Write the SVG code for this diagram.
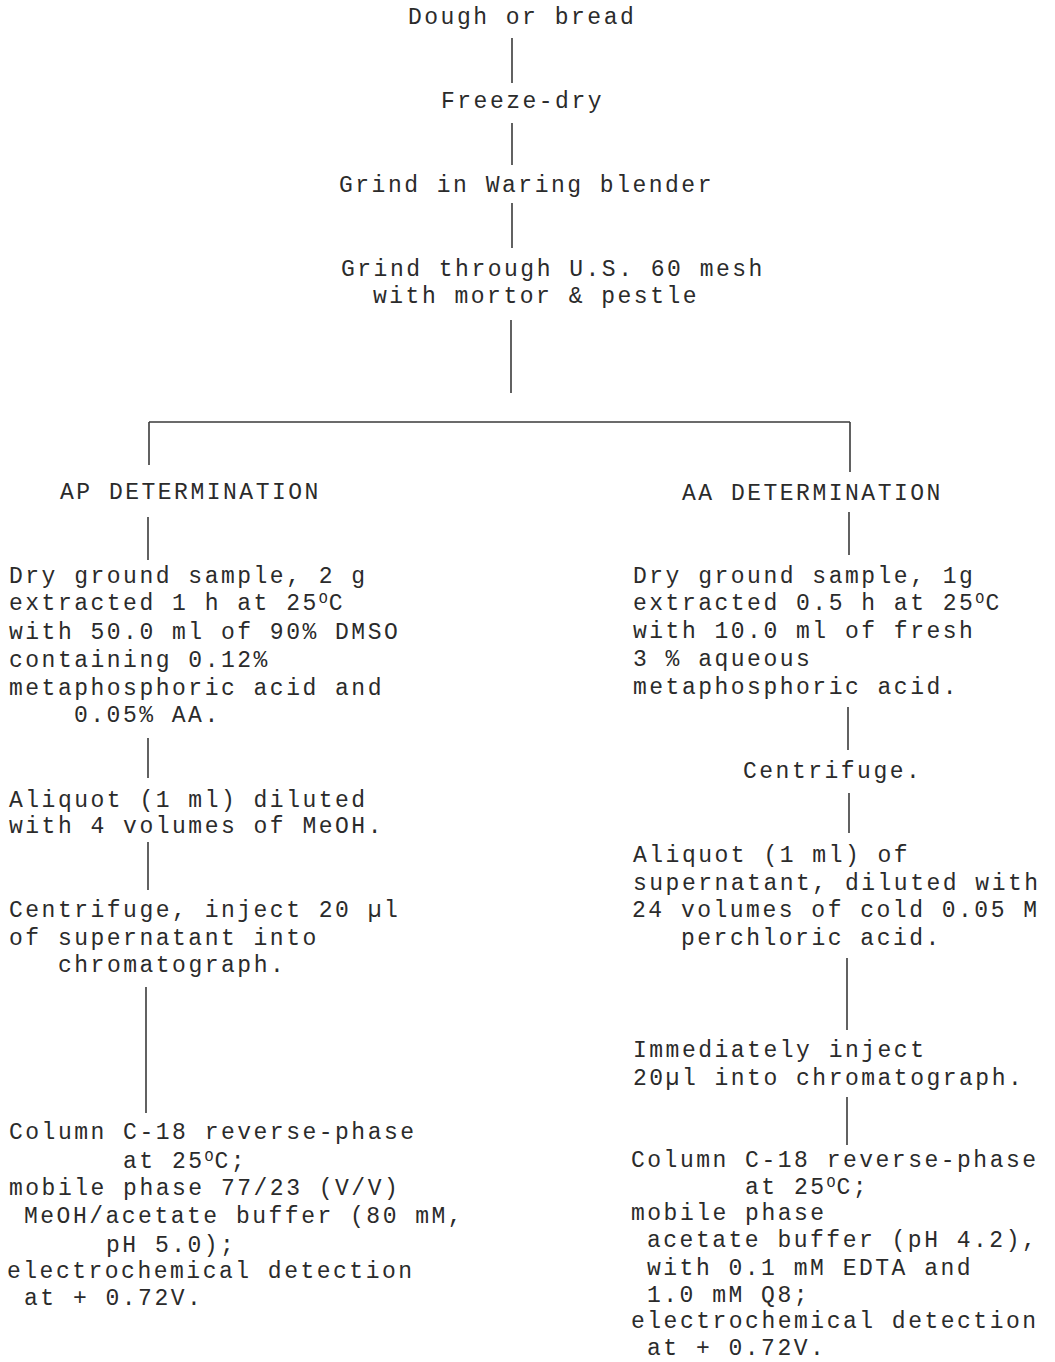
<svg xmlns="http://www.w3.org/2000/svg" width="1055" height="1362" viewBox="0 0 1055 1362">
<style>
text{font-family:"Courier New","Liberation Mono",monospace;font-size:23px;letter-spacing:2.5px;fill:#2b2b2b;}
.sup{font-size:15px;letter-spacing:1px;}
.c line{stroke:#3a3a3a;stroke-width:1.6;}
</style>
<rect width="1055" height="1362" fill="#ffffff"/>
<g class="c" id="connectors">
<line x1="512" y1="38" x2="512" y2="83"/>
<line x1="512" y1="123" x2="512" y2="165"/>
<line x1="512" y1="203" x2="512" y2="248"/>
<line x1="511" y1="320" x2="511" y2="393"/>
<line x1="149" y1="422" x2="850" y2="422"/>
<line x1="149" y1="422" x2="149" y2="465"/>
<line x1="850" y1="422" x2="850" y2="472"/>
<line x1="148" y1="517" x2="148" y2="560"/>
<line x1="148" y1="738" x2="148" y2="778"/>
<line x1="148" y1="842" x2="148" y2="890"/>
<line x1="146" y1="987" x2="146" y2="1113"/>
<line x1="849" y1="512" x2="849" y2="555"/>
<line x1="848" y1="707" x2="848" y2="750"/>
<line x1="849" y1="793" x2="849" y2="833"/>
<line x1="847" y1="958" x2="847" y2="1030"/>
<line x1="847" y1="1097" x2="847" y2="1145"/>
</g>
<g id="n-dough"><text x="408" y="24">Dough or bread</text></g>
<g id="n-freeze"><text x="441" y="108">Freeze-dry</text></g>
<g id="n-grind1"><text x="339" y="192">Grind in Waring blender</text></g>
<g id="n-grind2"><text x="341" y="276">Grind through U.S. 60 mesh</text><text x="373" y="303">with mortor &amp; pestle</text></g>
<g id="n-ap"><text x="60" y="499">AP DETERMINATION</text></g>
<g id="n-aa"><text x="682" y="500">AA DETERMINATION</text></g>
<g id="n-ap1">
<text x="9" y="583">Dry ground sample, 2 g</text>
<text x="9" y="610">extracted 1 h at 25<tspan class="sup" dy="-7">O</tspan><tspan dy="7">C</tspan></text>
<text x="9" y="639">with 50.0 ml of 90% DMSO</text>
<text x="9" y="667">containing 0.12%</text>
<text x="9" y="695">metaphosphoric acid and</text>
<text x="74" y="722">0.05% AA.</text>
</g>
<g id="n-ap2">
<text x="9" y="807">Aliquot (1 ml) diluted</text>
<text x="9" y="833">with 4 volumes of MeOH.</text>
</g>
<g id="n-ap3">
<text x="9" y="917">Centrifuge, inject 20 µl</text>
<text x="9" y="945">of supernatant into</text>
<text x="58" y="972">chromatograph.</text>
</g>
<g id="n-ap4">
<text x="9" y="1139">Column C-18 reverse-phase</text>
<text x="123" y="1168">at 25<tspan class="sup" dy="-7">O</tspan><tspan dy="7">C;</tspan></text>
<text x="9" y="1195">mobile phase 77/23 (V/V)</text>
<text x="24" y="1223">MeOH/acetate buffer (80 mM,</text>
<text x="106" y="1252">pH 5.0);</text>
<text x="7" y="1278">electrochemical detection</text>
<text x="24" y="1305">at + 0.72V.</text>
</g>
<g id="n-aa1">
<text x="633" y="583">Dry ground sample, 1g</text>
<text x="633" y="610">extracted 0.5 h at 25<tspan class="sup" dy="-7">O</tspan><tspan dy="7">C</tspan></text>
<text x="633" y="638">with 10.0 ml of fresh</text>
<text x="633" y="666">3 % aqueous</text>
<text x="633" y="694">metaphosphoric acid.</text>
</g>
<g id="n-aa2"><text x="743" y="778">Centrifuge.</text></g>
<g id="n-aa3">
<text x="633" y="862">Aliquot (1 ml) of</text>
<text x="633" y="890">supernatant, diluted with</text>
<text x="632" y="917">24 volumes of cold 0.05 M</text>
<text x="681" y="945">perchloric acid.</text>
</g>
<g id="n-aa4">
<text x="633" y="1057">Immediately inject</text>
<text x="633" y="1085">20µl into chromatograph.</text>
</g>
<g id="n-aa5">
<text x="631" y="1167">Column C-18 reverse-phase</text>
<text x="745" y="1194">at 25<tspan class="sup" dy="-7">O</tspan><tspan dy="7">C;</tspan></text>
<text x="631" y="1220">mobile phase</text>
<text x="647" y="1247">acetate buffer (pH 4.2),</text>
<text x="647" y="1275">with 0.1 mM EDTA and</text>
<text x="647" y="1302">1.0 mM Q8;</text>
<text x="631" y="1328">electrochemical detection</text>
<text x="647" y="1355">at + 0.72V.</text>
</g>
</svg>
